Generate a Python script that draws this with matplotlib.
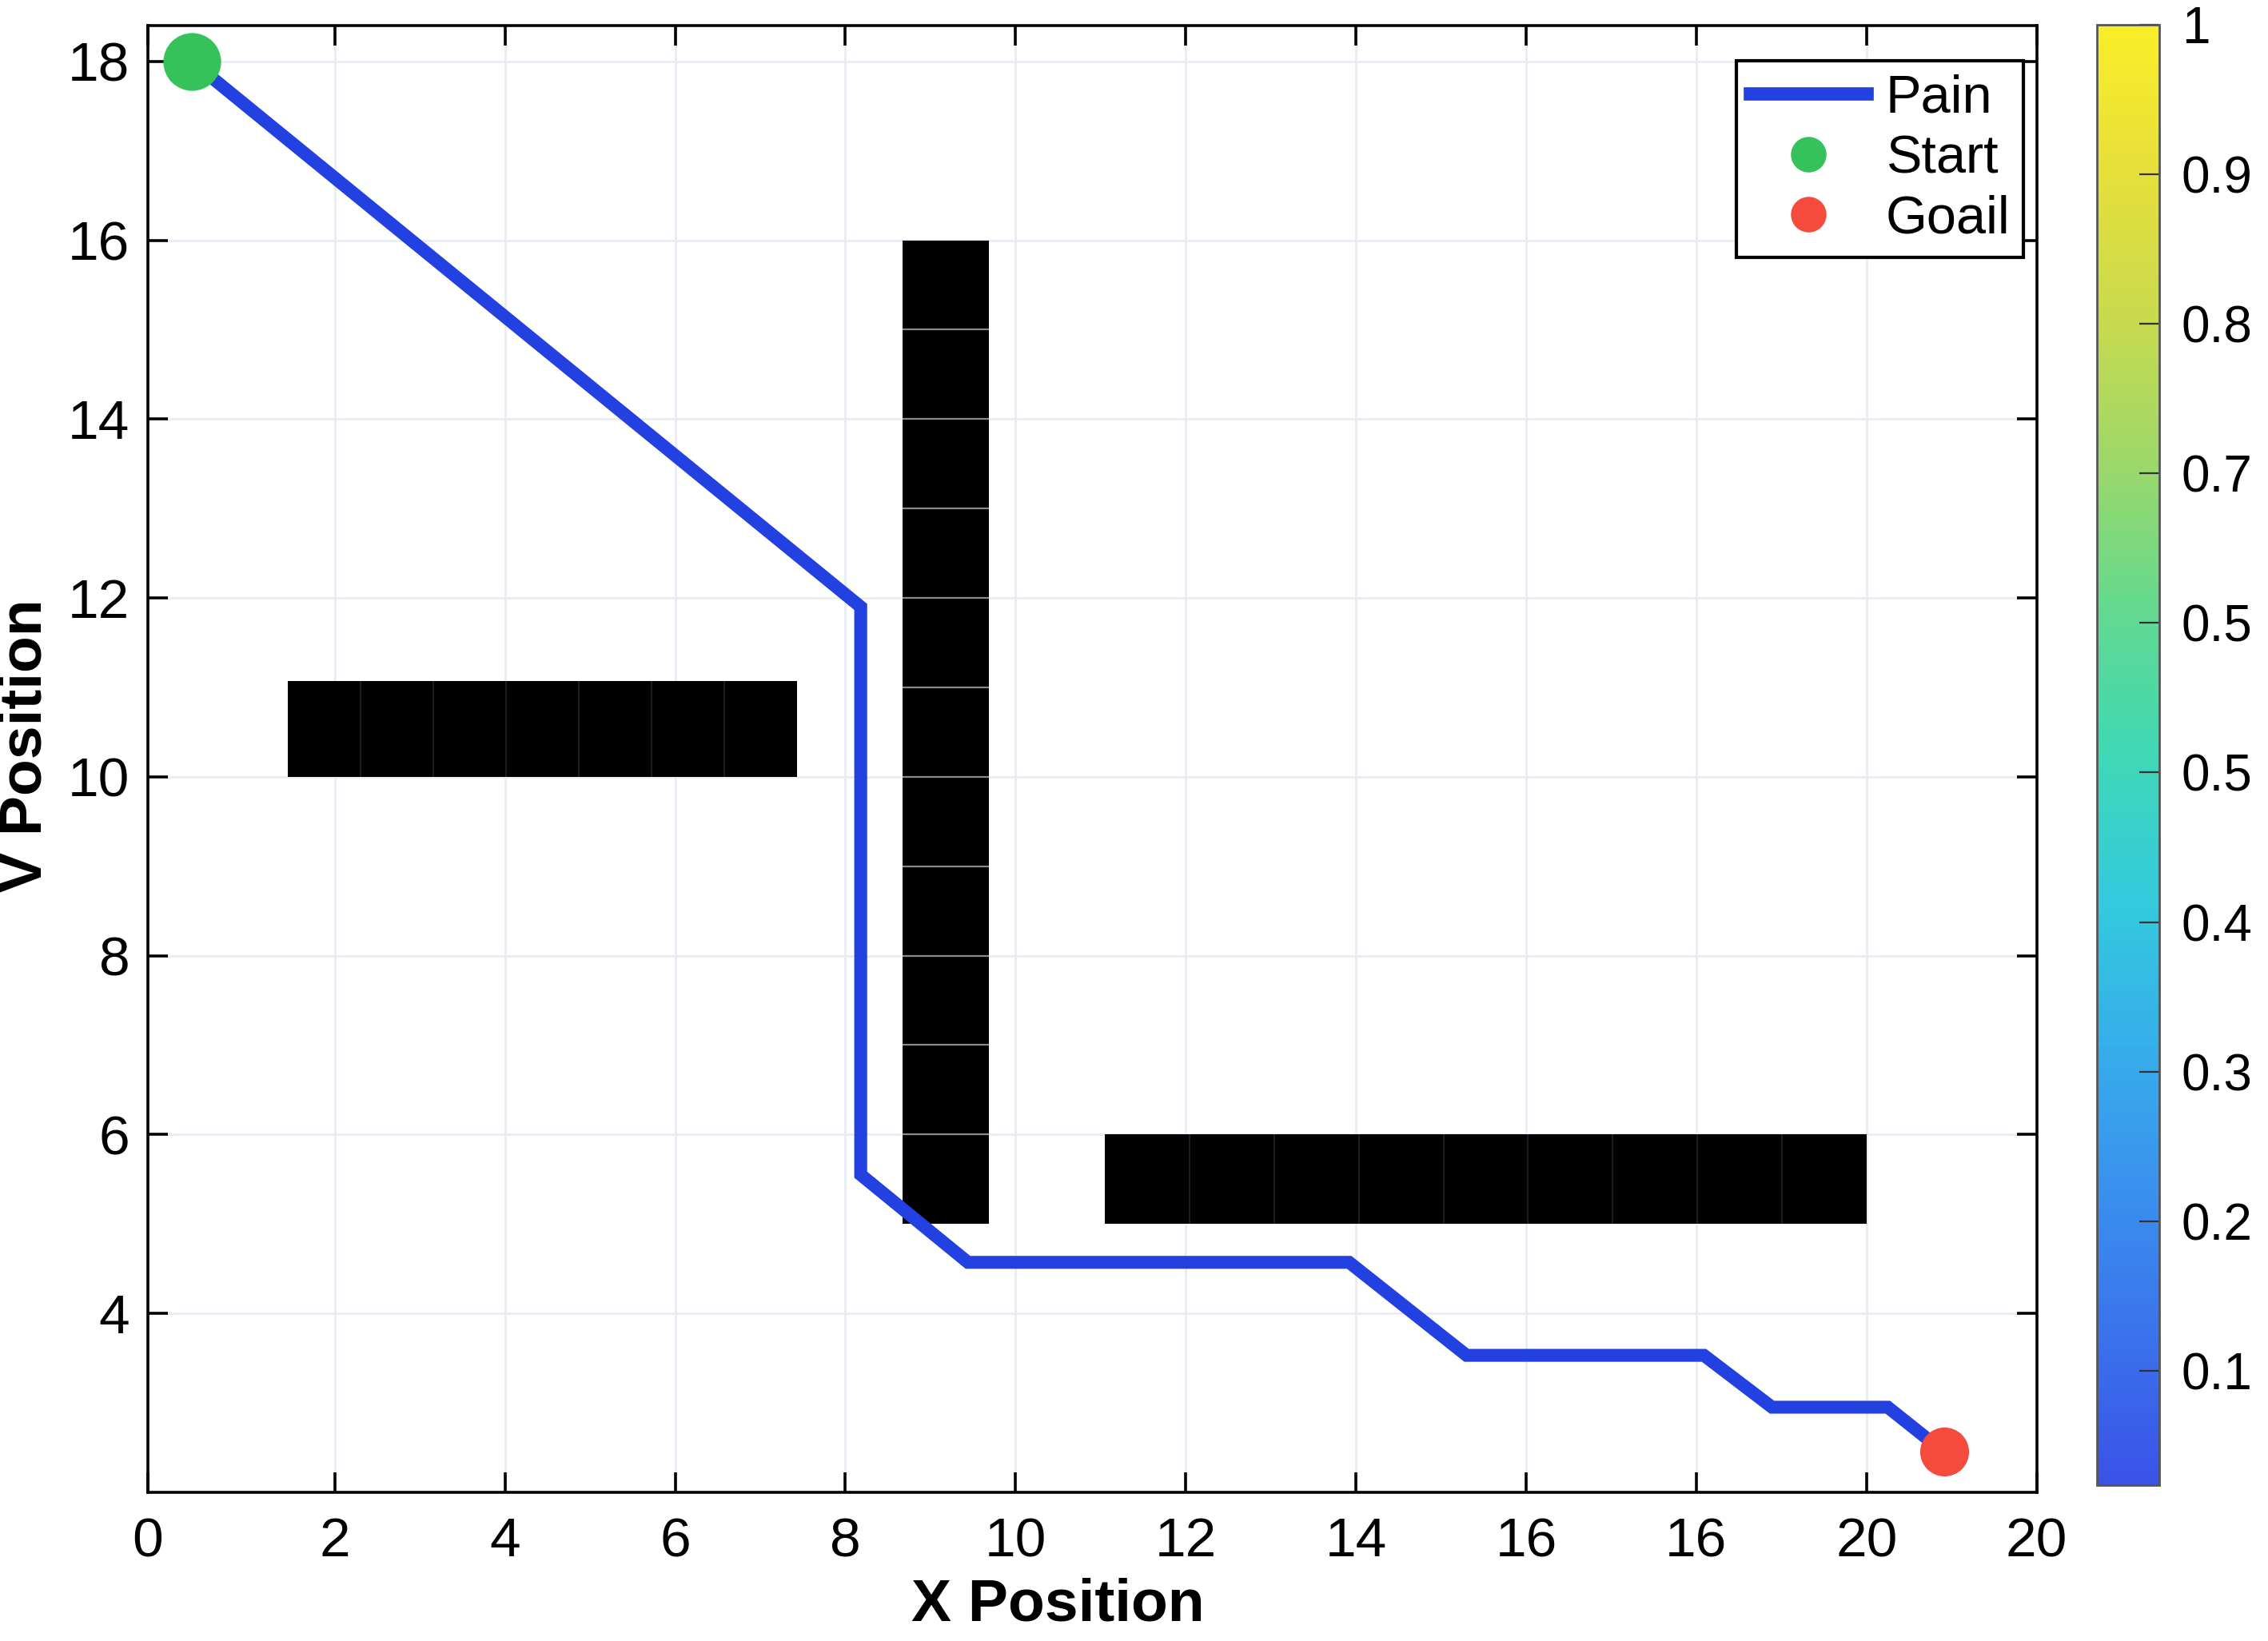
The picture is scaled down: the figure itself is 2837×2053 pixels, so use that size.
import numpy as np
import matplotlib
matplotlib.use("Agg")
import matplotlib.pyplot as plt
from matplotlib.colors import LinearSegmentedColormap, Normalize
from matplotlib.cm import ScalarMappable
from matplotlib.lines import Line2D
from matplotlib.patches import Rectangle

plt.rcParams['font.family'] = ['Liberation Sans', 'DejaVu Sans']

# path (x, y)
path_x = [0.32, 8.18, 8.18, 9.44, 13.92, 15.30, 18.09, 18.89, 20.25, 20.91]
path_y = [18.0, 11.9, 5.55, 4.57, 4.57, 3.53, 3.53, 2.95, 2.95, 2.45]
start = (0.32, 18.0)
goal = (20.91, 2.45)

# obstacles: extents and cell counts
obs_x0 = [1.45, 8.67, 11.05]
obs_x1 = [7.43, 9.69, 20.0]
obs_y0 = [10.0, 5.0, 5.0]
obs_y1 = [11.07, 16.0, 6.0]
obs_cols = [7, 1, 9]
obs_rows = [1, 11, 1]
obs_edge = ['#1e1e1e', '#8a8a8a', '#1e1e1e']

xtick_pos = [-0.2, 2, 4, 6, 8, 10, 12, 14, 16, 18, 20, 22]
xtick_lab = ['0', '2', '4', '6', '8', '10', '12', '14', '16', '16', '20', '20']
ytick_pos = [4, 6, 8, 10, 12, 14, 16, 18]

cb_ticks = [0.1, 0.2, 0.3, 0.4, 0.5, 0.6, 0.7, 0.8, 0.9, 1.0]
cb_labels = ['0.1', '0.2', '0.3', '0.4', '0.5', '0.5', '0.7', '0.8', '0.9', '1']
cb_colors = ['#3a52e8', '#3a72ec', '#3a90ee', '#36aeea', '#33cadd', '#3fd8b6',
             '#63d98e', '#9cd86a', '#c8da4e', '#e6df3a', '#faee28']

fig = plt.figure(figsize=(2837 / 200, 2053 / 200), dpi=200)
ax = fig.add_axes([0.0651, 0.0907, 0.8329, 0.8937])
cax = fig.add_axes([0.9247, 0.0951, 0.0274, 0.8899])

ax.grid(True, color='#e9ecf3', linewidth=1.0, zorder=0)
ax.set_axisbelow(True)

for i in range(len(obs_x0)):
    ax.add_patch(Rectangle((obs_x0[i], obs_y0[i]), obs_x1[i] - obs_x0[i],
                           obs_y1[i] - obs_y0[i], facecolor='black',
                           edgecolor='none', zorder=2))
    xs = np.linspace(obs_x0[i], obs_x1[i], obs_cols[i] + 1)[1:-1]
    ys = np.linspace(obs_y0[i], obs_y1[i], obs_rows[i] + 1)[1:-1]
    if len(xs):
        ax.vlines(xs, obs_y0[i], obs_y1[i], colors=obs_edge[i], linewidth=0.7, zorder=2.5)
    if len(ys):
        ax.hlines(ys, obs_x0[i], obs_x1[i], colors=obs_edge[i], linewidth=0.8, zorder=2.5)

ax.plot(path_x, path_y, color='#2340e0', linewidth=5.8, zorder=3,
        solid_joinstyle='miter')
ax.plot(*start, 'o', color='#36c25a', markersize=25, zorder=4)
ax.plot(*goal, 'o', color='#f44b3c', markersize=21, zorder=4)

ax.set_xlim(-0.2, 22.0)
ax.set_ylim(2.0, 18.4)
ax.set_xticks(xtick_pos)
ax.set_xticklabels(xtick_lab)
ax.set_yticks(ytick_pos)
ax.tick_params(direction='in', length=9, width=1.3, labelsize=25,
               top=True, right=True, colors='black')
ax.tick_params(axis='x', pad=11)
ax.tick_params(axis='y', pad=8)
for s in ax.spines.values():
    s.set_linewidth(1.3)

ax.set_xlabel('X Position', fontsize=27, fontweight='bold')
ax.set_ylabel('V Position', fontsize=27, fontweight='bold')
ax.xaxis.set_label_coords(0.482, -0.058)
ax.yaxis.set_label_coords(-0.05, 0.509)

handles = [
    Line2D([], [], color='#2340e0', linewidth=6),
    Line2D([], [], marker='o', linestyle='none', color='#36c25a', markersize=15),
    Line2D([], [], marker='o', linestyle='none', color='#f44b3c', markersize=15),
]
leg = ax.legend(handles, ['Pain', 'Start', 'Goail'], loc='upper right',
                bbox_to_anchor=(0.993, 0.976), borderaxespad=0, fontsize=24,
                handlelength=2.2, handletextpad=0.35, labelspacing=0.2,
                borderpad=0.25, fancybox=False, framealpha=1)
leg.get_frame().set_edgecolor('black')
leg.get_frame().set_linewidth(1.5)

cmap = LinearSegmentedColormap.from_list('pal', cb_colors)
sm = ScalarMappable(norm=Normalize(0.0237, 1.0), cmap=cmap)
cb = fig.colorbar(sm, cax=cax, ticks=cb_ticks)
cb.set_ticklabels(cb_labels)
cb.ax.tick_params(direction='in', length=9, width=0.8, labelsize=23, pad=10,
                  color='#333333')
cb.outline.set_edgecolor('#555555')
cb.outline.set_linewidth(1.0)

fig.savefig('out.png', dpi=200)
